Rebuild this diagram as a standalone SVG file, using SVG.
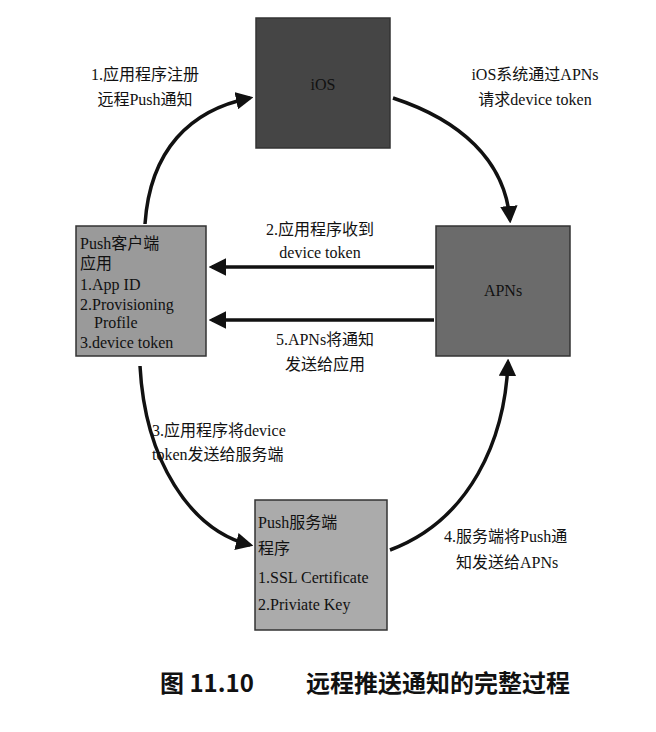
<svg xmlns="http://www.w3.org/2000/svg" width="656" height="732" viewBox="0 0 656 732">
<defs>
<marker id="ah" viewBox="0 0 10 10" refX="8" refY="5" markerWidth="5" markerHeight="5" orient="auto"><path d="M0,0 L10,5 L0,10 z" fill="#111"/></marker>
<style>
.t{font-family:"Liberation Serif","Noto Sans CJK SC",serif;font-size:16px;fill:#111}
.b{stroke:#333;stroke-width:1.5}
.c{fill:none;stroke:#111;stroke-width:3.5;marker-end:url(#ah)}
</style>
</defs>
<rect width="656" height="732" fill="#fff"/>
<g id="ios"><rect class="b" x="256" y="18" width="134" height="130" fill="#454545"/><text class="t" x="323" y="90" text-anchor="middle" fill="#222">iOS</text></g>
<g id="apns"><rect class="b" x="436" y="226" width="134" height="130" fill="#6b6b6b"/><text class="t" x="503" y="296" text-anchor="middle">APNs</text></g>
<g id="client"><rect class="b" x="76" y="226" width="130" height="130" fill="#9a9a9a"/>
<text class="t" x="80" y="249">Push客户端</text><text class="t" x="80" y="269">应用</text><text class="t" x="80" y="290">1.App ID</text><text class="t" x="80" y="310">2.Provisioning</text><text class="t" x="94" y="328">Profile</text><text class="t" x="80" y="348">3.device token</text></g>
<g id="server"><rect class="b" x="255" y="500" width="132" height="130" fill="#ababab"/>
<text class="t" x="258" y="528">Push服务端</text><text class="t" x="258" y="554">程序</text><text class="t" x="258" y="583">1.SSL Certificate</text><text class="t" x="258" y="610">2.Priviate Key</text></g>
<g id="connectors">
<path class="c" d="M145,224 C150,150 190,110 250,98"/>
<path class="c" d="M393,98 C460,120 505,160 510,220"/>
<path class="c" d="M434,267 L212,267"/>
<path class="c" d="M434,320 L212,320"/>
<path class="c" d="M140,366 C145,460 190,530 250,545"/>
<path class="c" d="M390,550 C470,520 505,440 508,362"/>
</g>
<g id="labels">
<text class="t" x="145" y="80" text-anchor="middle">1.应用程序注册</text><text class="t" x="145" y="105" text-anchor="middle">远程Push通知</text>
<text class="t" x="535" y="80" text-anchor="middle">iOS系统通过APNs</text><text class="t" x="535" y="105" text-anchor="middle">请求device token</text>
<text class="t" x="320" y="235" text-anchor="middle">2.应用程序收到</text><text class="t" x="320" y="258" text-anchor="middle">device token</text>
<text class="t" x="325" y="345" text-anchor="middle">5.APNs将通知</text><text class="t" x="325" y="370" text-anchor="middle">发送给应用</text>
<text class="t" x="152" y="436">3.应用程序将device</text><text class="t" x="152" y="460">token发送给服务端</text>
<text class="t" x="444" y="542">4.服务端将Push通</text><text class="t" x="456" y="568">知发送给APNs</text>
<text y="692" style="font-family:'Noto Sans CJK SC',sans-serif;font-size:24px;font-weight:bold;fill:#111"><tspan x="160">图 11.10</tspan><tspan x="306">远程推送通知的完整过程</tspan></text>
</g>
</svg>
